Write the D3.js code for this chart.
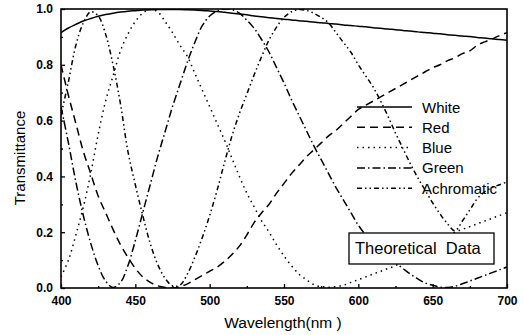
<!DOCTYPE html>
<html>
<head>
<meta charset="utf-8">
<script src="https://cdn.jsdelivr.net/npm/d3@7"></script>
<style>
  body { margin: 0; background: #fff; }
  svg { display: block; font-family: "Liberation Sans", Arial, sans-serif; }
</style>
</head>
<body>
<div id="vis"></div>
<script>
// wavelength grid (nm)
const wavelengths = [
  400, 405, 410, 415, 420, 425, 430, 435, 440, 445,
  450, 455, 460, 465, 470, 475, 480, 485, 490, 495,
  500, 505, 510, 515, 520, 525, 530, 535, 540, 545,
  550, 555, 560, 565, 570, 575, 580, 585, 590, 595,
  600, 605, 610, 615, 620, 625, 630, 635, 640, 645,
  650, 655, 660, 665, 670, 675, 680, 685, 690, 695, 700
];

const white = [
  0.915, 0.932, 0.945, 0.957, 0.966, 0.974, 0.980, 0.985, 0.989, 0.992,
  0.994, 0.996, 0.997, 0.998, 0.998, 0.998, 0.998, 0.997, 0.996, 0.995,
  0.993, 0.991, 0.988, 0.985, 0.982, 0.979, 0.975, 0.972, 0.969, 0.966,
  0.963, 0.961, 0.958, 0.956, 0.953, 0.951, 0.948, 0.946, 0.943, 0.941,
  0.938, 0.936, 0.933, 0.931, 0.928, 0.926, 0.923, 0.921, 0.918, 0.916,
  0.913, 0.911, 0.908, 0.906, 0.903, 0.901, 0.898, 0.896, 0.893, 0.891, 0.888
];

const red = [
  0.80, 0.69, 0.59, 0.49, 0.41, 0.33, 0.27, 0.21, 0.155, 0.11,
  0.07, 0.04, 0.02, 0.008, 0.002, 0.0, 0.005, 0.015, 0.03, 0.045,
  0.06, 0.075, 0.095, 0.12, 0.15, 0.19, 0.235, 0.27, 0.30, 0.34,
  0.375, 0.41, 0.44, 0.47, 0.495, 0.52, 0.545, 0.565, 0.59, 0.615,
  0.64, 0.655, 0.67, 0.685, 0.70, 0.715, 0.73, 0.745, 0.76, 0.775,
  0.79, 0.80, 0.815, 0.825, 0.84, 0.85, 0.87, 0.882, 0.893, 0.905, 0.915
];

const blue = [
  0.04, 0.10, 0.19, 0.29, 0.41, 0.55, 0.67, 0.76, 0.85, 0.91,
  0.955, 0.985, 0.998, 0.99, 0.955, 0.915, 0.87, 0.83, 0.77, 0.71,
  0.65, 0.59, 0.53, 0.465, 0.40, 0.34, 0.29, 0.24, 0.20, 0.155,
  0.115, 0.08, 0.05, 0.03, 0.012, 0.005, 0.003, 0.005, 0.01, 0.02,
  0.03, 0.04, 0.05, 0.06, 0.07, 0.08, 0.095, 0.11, 0.125, 0.14,
  0.155, 0.17, 0.185, 0.20, 0.21, 0.22, 0.23, 0.24, 0.25, 0.26, 0.27
];

const green = [
  0.65, 0.52, 0.38, 0.26, 0.16, 0.08, 0.025, 0.002, 0.02, 0.08,
  0.17, 0.27, 0.37, 0.47, 0.56, 0.65, 0.73, 0.81, 0.88, 0.94,
  0.975, 0.993, 1.0, 0.998, 0.985, 0.96, 0.93, 0.89, 0.845, 0.79,
  0.735, 0.675, 0.62, 0.565, 0.51, 0.46, 0.41, 0.36, 0.315, 0.27,
  0.225, 0.19, 0.16, 0.135, 0.11, 0.09, 0.07, 0.05, 0.033, 0.018,
  0.01, 0.003, 0.002, 0.006, 0.015, 0.025, 0.035, 0.045, 0.055, 0.065, 0.075
];

const achromatic = [
  0.62, 0.74, 0.87, 0.95, 0.99, 0.975, 0.91, 0.80, 0.66, 0.49,
  0.37, 0.26, 0.16, 0.085, 0.035, 0.008, 0.01, 0.05, 0.11, 0.18,
  0.26, 0.35, 0.45, 0.545, 0.625, 0.695, 0.765, 0.83, 0.89, 0.935,
  0.97, 0.99, 0.998, 0.995, 0.985, 0.97, 0.95, 0.915, 0.88, 0.845,
  0.80, 0.76, 0.72, 0.67, 0.615, 0.555, 0.50, 0.445, 0.395, 0.35,
  0.305, 0.265, 0.23, 0.205, 0.24, 0.28, 0.32, 0.345, 0.36, 0.37, 0.38
];

const xTicks = [400, 450, 500, 550, 600, 650, 700];
const yTicks = [0.0, 0.2, 0.4, 0.6, 0.8, 1.0];
const xMinor = [425, 475, 525, 575, 625, 675];
const yMinor = [0.1, 0.3, 0.5, 0.7, 0.9];

const series = [
  { name: "White", values: white, dash: null },
  { name: "Red", values: red, dash: "8,5" },
  { name: "Blue", values: blue, dash: "1.5,4" },
  { name: "Green", values: green, dash: "8,3,1.5,3" },
  { name: "Achromatic", values: achromatic, dash: "5,3,1.5,3,1.5,3" }
];

// set the dimensions and margins of the graph
var margin = { top: 9, right: 17, bottom: 47, left: 61 },
  width = 524 - margin.left - margin.right,
  height = 335 - margin.top - margin.bottom;

var x = d3.scaleLinear().domain([400, 700]).range([0, width]);
var y = d3.scaleLinear().domain([0, 1]).range([height, 0]);

var svg = d3.select("#vis")
  .append("svg")
  .attr("width", 524)
  .attr("height", 335)
  .append("g")
  .attr("transform", "translate(" + margin.left + "," + margin.top + ")");

svg.append("defs").append("clipPath")
  .attr("id", "plot-clip")
  .append("rect")
  .attr("width", width)
  .attr("height", height);

// axes, ticks pointing inward
var xAxis = svg.append("g")
  .attr("transform", "translate(0," + height + ")")
  .call(d3.axisBottom(x).tickValues(xTicks).tickSizeInner(-4).tickSizeOuter(0)
    .tickPadding(8).tickFormat(d3.format("d")));
svg.append("g")
  .attr("transform", "translate(0," + height + ")")
  .call(d3.axisBottom(x).tickValues(xMinor).tickSizeInner(-2).tickSizeOuter(0).tickFormat(""));

var yAxis = svg.append("g")
  .call(d3.axisLeft(y).tickValues(yTicks).tickSizeInner(-4).tickSizeOuter(0)
    .tickPadding(8).tickFormat(d3.format(".1f")));
svg.append("g")
  .call(d3.axisLeft(y).tickValues(yMinor).tickSizeInner(-2).tickSizeOuter(0).tickFormat(""));

svg.selectAll(".domain").remove();
svg.selectAll(".tick line").attr("stroke", "#000").attr("stroke-width", 1.3);
svg.selectAll(".tick text")
  .attr("fill", "#000")
  .style("font-size", "12px")
  .style("font-weight", "bold")
  .style("font-family", "'Liberation Sans', Arial, sans-serif");

// curves
var line = d3.line()
  .x(function (d, i) { return x(wavelengths[i]); })
  .y(function (d) { return y(d); })
  .curve(d3.curveCatmullRom);

svg.append("g")
  .attr("clip-path", "url(#plot-clip)")
  .selectAll("path")
  .data(series)
  .enter()
  .append("path")
  .attr("fill", "none")
  .attr("stroke", "#000")
  .attr("stroke-width", 1.5)
  .attr("stroke-dasharray", function (d) { return d.dash; })
  .attr("d", function (d) { return line(d.values); });

// frame
svg.append("rect")
  .attr("width", width)
  .attr("height", height)
  .attr("fill", "none")
  .attr("stroke", "#000")
  .attr("stroke-width", 1.6);

// legend
var legend = svg.append("g")
  .attr("transform", "translate(" + (357 - margin.left) + "," + (107 - margin.top) + ")");

var item = legend.selectAll(".item")
  .data(series)
  .enter()
  .append("g")
  .attr("class", "item")
  .attr("transform", function (d, i) { return "translate(0," + i * 20.3 + ")"; });

item.append("line")
  .attr("x1", 0).attr("x2", 55)
  .attr("stroke", "#000")
  .attr("stroke-width", 1.5)
  .attr("stroke-dasharray", function (d) { return d.dash; });

item.append("text")
  .attr("x", 65)
  .attr("y", 5.5)
  .style("font-size", "15px")
  .text(function (d) { return d.name; });

// "Theoretical Data" box
var note = svg.append("g")
  .attr("transform", "translate(" + (349 - margin.left) + "," + (233 - margin.top) + ")");
note.append("rect")
  .attr("width", 145)
  .attr("height", 31)
  .attr("fill", "#fff")
  .attr("stroke", "#000")
  .attr("stroke-width", 1.3);
note.append("text")
  .attr("x", 6)
  .attr("y", 21)
  .style("font-size", "16.5px")
  .style("white-space", "pre")
  .text("Theoretical  Data");

// axis titles
svg.append("text")
  .attr("x", 283 - margin.left)
  .attr("y", 328 - margin.top)
  .attr("text-anchor", "middle")
  .style("font-size", "15.5px")
  .style("white-space", "pre")
  .text("Wavelength(nm )");

svg.append("text")
  .attr("transform", "translate(" + (25 - margin.left) + "," + (158 - margin.top) + ") rotate(-90)")
  .attr("text-anchor", "middle")
  .style("font-size", "15px")
  .text("Transmittance");
</script>
</body>
</html>
